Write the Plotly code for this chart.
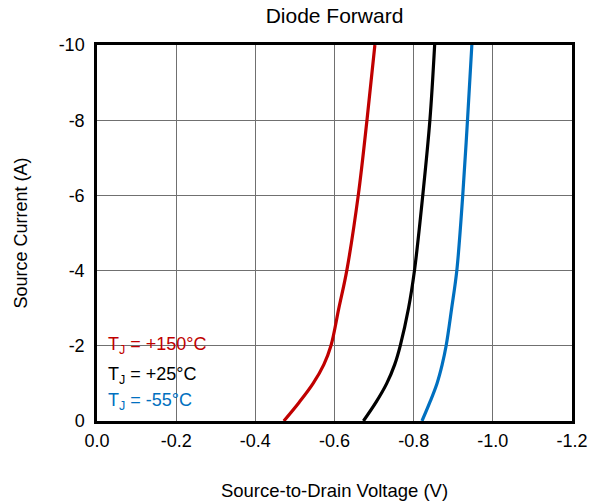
import plotly.graph_objects as go

# Source current (A)
current = [0, -0.5, -1.0, -1.5, -2.0, -3.0, -4.0, -6.0, -8.0, -10.0]
# Source-to-drain voltage (V) per junction temperature
v_150 = [-0.472, -0.511, -0.546, -0.573, -0.591, -0.611, -0.631, -0.660, -0.682, -0.702]
v_25 = [-0.673, -0.705, -0.732, -0.752, -0.766, -0.787, -0.802, -0.823, -0.841, -0.853]
v_m55 = [-0.821, -0.841, -0.859, -0.872, -0.882, -0.896, -0.909, -0.924, -0.936, -0.947]

labels = ["T<sub>J</sub> = +150°C", "T<sub>J</sub> = +25°C", "T<sub>J</sub> = -55°C"]
colors = ["#C00000", "#000000", "#0070C0"]
label_y = [-2.0, -1.22, -0.53]

x_ticks = [0.0, -0.2, -0.4, -0.6, -0.8, -1.0, -1.2]
x_ticktext = ["0.0", "-0.2", "-0.4", "-0.6", "-0.8", "-1.0", "-1.2"]
y_ticks = [0, -2, -4, -6, -8, -10]
y_ticktext = ["0", "-2", "-4", "-6", "-8", "-10"]

FONT = "Arial, 'Liberation Sans', sans-serif"
PW, PH = 475, 376  # plot area size in px

fig = go.Figure()
for v, c in zip([v_150, v_25, v_m55], colors):
    fig.add_trace(go.Scatter(x=v, y=current, mode="lines",
                             line=dict(color=c, width=3.2, shape="spline", smoothing=1.0),
                             showlegend=False, hoverinfo="skip"))

# white box behind labels
fig.add_shape(type="rect", xref="paper", yref="paper",
              x0=9 / PW, x1=115 / PW, y0=6 / PH, y1=93 / PH,
              fillcolor="white", line=dict(width=0), layer="between")

for t, c, yv in zip(labels, colors, label_y):
    fig.add_annotation(text=t, x=9 / PW, xref="paper", y=yv, yref="y",
                       xanchor="left", yanchor="middle", showarrow=False,
                       font=dict(color=c, size=18, family=FONT))

fig.update_layout(
    width=598, height=503,
    margin=dict(l=97, r=26, t=45, b=82),
    paper_bgcolor="white", plot_bgcolor="white",
    font=dict(family=FONT, size=18, color="black"),
    title=dict(text="Diode Forward", x=(97 + 572) / 2 / 598, xanchor="center",
               y=1 - 16 / 503, yanchor="middle", font=dict(size=21, family=FONT)),
)
fig.update_xaxes(range=[0, -1.2], tickvals=x_ticks, ticktext=x_ticktext,
                 showgrid=True, gridcolor="#707070", gridwidth=1.2,
                 showline=True, linecolor="black", linewidth=2.5, mirror=True,
                 ticks="", zeroline=False, tickfont=dict(size=18), automargin=False,
                 ticklabelstandoff=2,
                 title=dict(text="Source-to-Drain Voltage (V)", standoff=34, font=dict(size=18.5)))
fig.update_yaxes(range=[0, -10], tickvals=y_ticks, ticktext=y_ticktext,
                 showgrid=True, gridcolor="#707070", gridwidth=1.2,
                 showline=True, linecolor="black", linewidth=2.5, mirror=True,
                 ticks="", zeroline=False, tickfont=dict(size=18), ticklabelstandoff=6,
                 automargin=False,
                 title=dict(text="Source Current (A)", standoff=27, font=dict(size=18)))

fig.write_html("out.html")
